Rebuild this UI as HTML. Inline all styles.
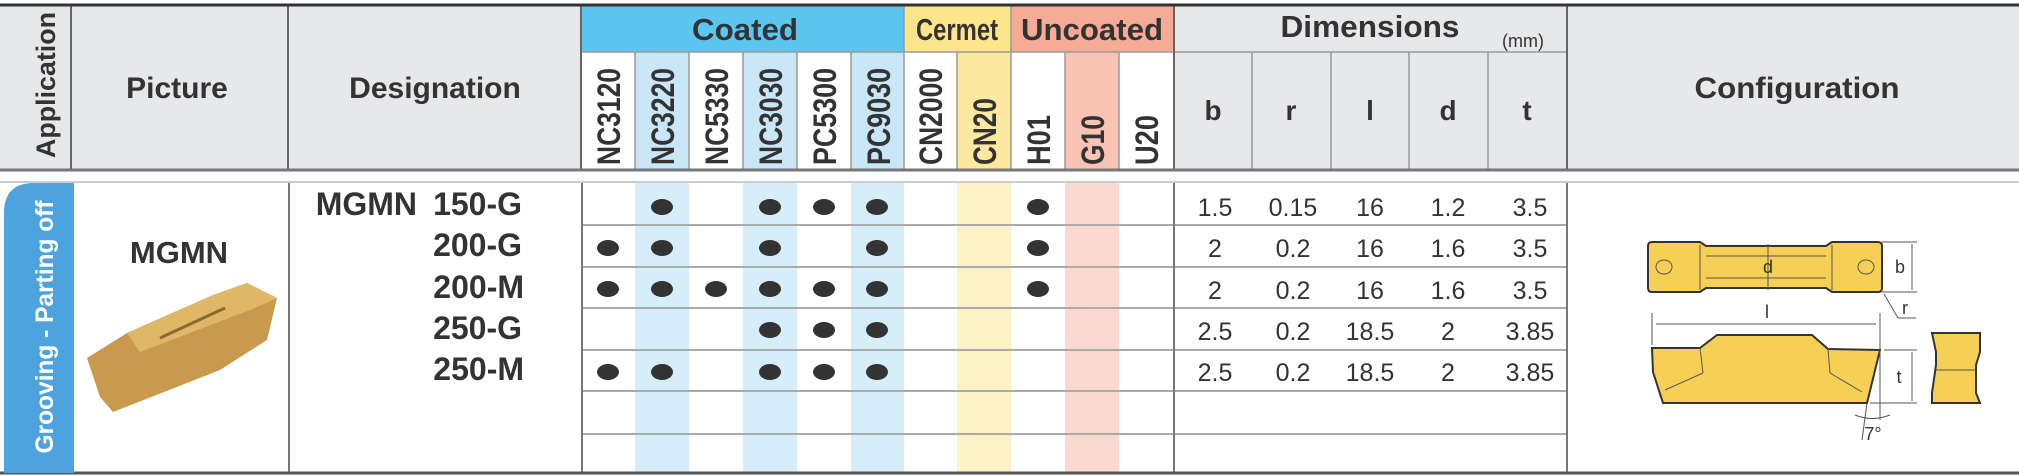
<!DOCTYPE html>
<html><head><meta charset="utf-8"><style>
html,body{margin:0;padding:0;background:#fff;}
svg{display:block;}
text{font-family:"Liberation Sans",sans-serif;fill:#333;}
</style></head><body>
<svg width="2019" height="476" viewBox="0 0 2019 476" xmlns="http://www.w3.org/2000/svg">
<rect width="2019" height="476" fill="#fff"/>
<rect x="0" y="5" width="2019" height="166" fill="#e7e8e9"/>
<rect x="581" y="6" width="323" height="46" fill="#5cc6f0"/>
<rect x="904" y="6" width="107" height="46" fill="#fde58c"/>
<rect x="1011" y="6" width="163" height="46" fill="#f6ab96"/>
<g>
<rect x="581" y="52" width="54" height="118" fill="#fff"/>
<rect x="635" y="52" width="54" height="118" fill="#c9e7f7"/>
<rect x="689" y="52" width="54" height="118" fill="#fff"/>
<rect x="743" y="52" width="54" height="118" fill="#c9e7f7"/>
<rect x="797" y="52" width="54" height="118" fill="#fff"/>
<rect x="851" y="52" width="53" height="118" fill="#c9e7f7"/>
<rect x="904" y="52" width="53" height="118" fill="#fff"/>
<rect x="957" y="52" width="54" height="118" fill="#fde8a0"/>
<rect x="1011" y="52" width="54" height="118" fill="#fff"/>
<rect x="1065" y="52" width="54" height="118" fill="#f9c4b4"/>
<rect x="1119" y="52" width="55" height="118" fill="#fff"/>
</g>
<rect x="635" y="183" width="54" height="290" fill="#d6edfa"/>
<rect x="743" y="183" width="54" height="290" fill="#d6edfa"/>
<rect x="851" y="183" width="53" height="290" fill="#d6edfa"/>
<rect x="957" y="183" width="54" height="290" fill="#fdf2c6"/>
<rect x="1065" y="183" width="54" height="290" fill="#fbd9cf"/>
<g stroke="#999" stroke-width="1.5">
<line x1="581" y1="52" x2="1567" y2="52"/>
<line x1="635" y1="52" x2="635" y2="170"/><line x1="689" y1="52" x2="689" y2="170"/>
<line x1="743" y1="52" x2="743" y2="170"/><line x1="797" y1="52" x2="797" y2="170"/>
<line x1="851" y1="52" x2="851" y2="170"/><line x1="957" y1="52" x2="957" y2="170"/>
<line x1="1065" y1="52" x2="1065" y2="170"/><line x1="1119" y1="52" x2="1119" y2="170"/>
<line x1="904" y1="6" x2="904" y2="170"/><line x1="1011" y1="6" x2="1011" y2="170"/>
<line x1="1252" y1="52" x2="1252" y2="170"/><line x1="1331" y1="52" x2="1331" y2="170"/>
<line x1="1409" y1="52" x2="1409" y2="170"/><line x1="1488" y1="52" x2="1488" y2="170"/>
</g>
<g stroke="#666" stroke-width="2">
<line x1="71" y1="6" x2="71" y2="170"/><line x1="288" y1="6" x2="288" y2="170"/>
<line x1="581" y1="6" x2="581" y2="170"/><line x1="1174" y1="6" x2="1174" y2="170"/>
<line x1="1567" y1="6" x2="1567" y2="170"/>
</g>
<line x1="0" y1="5" x2="2019" y2="5" stroke="#333" stroke-width="3"/>
<line x1="0" y1="170" x2="2019" y2="170" stroke="#777" stroke-width="3"/>
<line x1="0" y1="182" x2="2019" y2="182" stroke="#ccc" stroke-width="2"/>
<g stroke="#aaa" stroke-width="2">
<line x1="581" y1="225" x2="1567" y2="225"/><line x1="581" y1="267" x2="1567" y2="267"/>
<line x1="581" y1="308" x2="1567" y2="308"/><line x1="581" y1="350" x2="1567" y2="350"/>
<line x1="581" y1="391" x2="1567" y2="391"/><line x1="581" y1="434" x2="1567" y2="434"/>
</g>
<g stroke="#777" stroke-width="2">
<line x1="289" y1="183" x2="289" y2="473"/><line x1="582" y1="183" x2="582" y2="473"/>
<line x1="1174" y1="183" x2="1174" y2="473"/><line x1="1567" y1="183" x2="1567" y2="473"/>
</g>
<line x1="0" y1="473" x2="2019" y2="473" stroke="#555" stroke-width="3"/>
<path d="M4 473 V213 Q4 183 34 183 H74 V473 Z" fill="#4da3dd"/>
<text transform="translate(53,327) rotate(-90)" text-anchor="middle" font-size="25" font-weight="bold" style="fill:#fff" textLength="253" lengthAdjust="spacingAndGlyphs">Grooving - Parting off</text>
<text transform="translate(55,85) rotate(-90)" text-anchor="middle" font-size="27" font-weight="bold" textLength="146" lengthAdjust="spacingAndGlyphs">Application</text>
<text x="177" y="98" text-anchor="middle" font-size="30" font-weight="bold">Picture</text>
<text x="435" y="98" text-anchor="middle" font-size="30" font-weight="bold">Designation</text>
<text x="745" y="40" text-anchor="middle" font-size="31" font-weight="bold" textLength="106" lengthAdjust="spacingAndGlyphs">Coated</text>
<text x="957" y="40" text-anchor="middle" font-size="31" font-weight="bold" textLength="82" lengthAdjust="spacingAndGlyphs">Cermet</text>
<text x="1092" y="40" text-anchor="middle" font-size="31" font-weight="bold" textLength="142" lengthAdjust="spacingAndGlyphs">Uncoated</text>
<text x="1370" y="37" text-anchor="middle" font-size="31" font-weight="bold" textLength="179" lengthAdjust="spacingAndGlyphs">Dimensions</text>
<text x="1523" y="47" text-anchor="middle" font-size="18">(mm)</text>
<text x="1797" y="98" text-anchor="middle" font-size="30" font-weight="bold" textLength="205" lengthAdjust="spacingAndGlyphs">Configuration</text>
<g font-size="28" font-weight="bold" text-anchor="middle">
<text x="1213" y="120">b</text><text x="1291" y="120">r</text><text x="1370" y="120">l</text><text x="1448" y="120">d</text><text x="1527" y="120">t</text>
</g>
<g font-size="32" font-weight="bold">
<text transform="translate(620,165) rotate(-90)" textLength="97" lengthAdjust="spacingAndGlyphs">NC3120</text>
<text transform="translate(674,165) rotate(-90)" textLength="97" lengthAdjust="spacingAndGlyphs">NC3220</text>
<text transform="translate(728,165) rotate(-90)" textLength="97" lengthAdjust="spacingAndGlyphs">NC5330</text>
<text transform="translate(782,165) rotate(-90)" textLength="97" lengthAdjust="spacingAndGlyphs">NC3030</text>
<text transform="translate(836,165) rotate(-90)" textLength="97" lengthAdjust="spacingAndGlyphs">PC5300</text>
<text transform="translate(890,165) rotate(-90)" textLength="97" lengthAdjust="spacingAndGlyphs">PC9030</text>
<text transform="translate(942,165) rotate(-90)" textLength="97" lengthAdjust="spacingAndGlyphs">CN2000</text>
<text transform="translate(996,165) rotate(-90)" textLength="67" lengthAdjust="spacingAndGlyphs">CN20</text>
<text transform="translate(1050,165) rotate(-90)" textLength="50" lengthAdjust="spacingAndGlyphs">H01</text>
<text transform="translate(1104,165) rotate(-90)" textLength="50" lengthAdjust="spacingAndGlyphs">G10</text>
<text transform="translate(1158,165) rotate(-90)" textLength="50" lengthAdjust="spacingAndGlyphs">U20</text>
</g>
<g font-size="32" font-weight="bold" text-anchor="end">
<text x="417" y="215">MGMN</text>
<text x="522" y="215">150-G</text>
<text x="522" y="256">200-G</text>
<text x="524" y="298">200-M</text>
<text x="522" y="339">250-G</text>
<text x="524" y="380">250-M</text>
</g>
<text x="179" y="263" text-anchor="middle" font-size="31" font-weight="bold">MGMN</text>
<polygon points="87,358 127,333 213,295 247,283 277,298 267,340 220,370 113,412 100,397" fill="#c99a4e"/>
<polygon points="127,333 213,295 247,283 277,298 250,310 140,352" fill="#e0b766"/>
<line x1="160" y1="338" x2="225" y2="308" stroke="#8a6a30" stroke-width="3"/>
<g fill="#333">
<ellipse cx="662" cy="207" rx="11" ry="8"/><ellipse cx="770" cy="207" rx="11" ry="8"/><ellipse cx="824" cy="207" rx="11" ry="8"/><ellipse cx="877" cy="207" rx="11" ry="8"/><ellipse cx="1038" cy="207" rx="11" ry="8"/>
<ellipse cx="608" cy="248" rx="11" ry="8"/><ellipse cx="662" cy="248" rx="11" ry="8"/><ellipse cx="770" cy="248" rx="11" ry="8"/><ellipse cx="877" cy="248" rx="11" ry="8"/><ellipse cx="1038" cy="248" rx="11" ry="8"/>
<ellipse cx="608" cy="289" rx="11" ry="8"/><ellipse cx="662" cy="289" rx="11" ry="8"/><ellipse cx="716" cy="289" rx="11" ry="8"/><ellipse cx="770" cy="289" rx="11" ry="8"/><ellipse cx="824" cy="289" rx="11" ry="8"/><ellipse cx="877" cy="289" rx="11" ry="8"/><ellipse cx="1038" cy="289" rx="11" ry="8"/>
<ellipse cx="770" cy="330" rx="11" ry="8"/><ellipse cx="824" cy="330" rx="11" ry="8"/><ellipse cx="877" cy="330" rx="11" ry="8"/>
<ellipse cx="608" cy="372" rx="11" ry="8"/><ellipse cx="662" cy="372" rx="11" ry="8"/><ellipse cx="770" cy="372" rx="11" ry="8"/><ellipse cx="824" cy="372" rx="11" ry="8"/><ellipse cx="877" cy="372" rx="11" ry="8"/>
</g>
<g font-size="25" text-anchor="middle">
<text x="1215" y="216">1.5</text><text x="1293" y="216">0.15</text><text x="1370" y="216">16</text><text x="1448" y="216">1.2</text><text x="1530" y="216">3.5</text>
<text x="1215" y="257">2</text><text x="1293" y="257">0.2</text><text x="1370" y="257">16</text><text x="1448" y="257">1.6</text><text x="1530" y="257">3.5</text>
<text x="1215" y="299">2</text><text x="1293" y="299">0.2</text><text x="1370" y="299">16</text><text x="1448" y="299">1.6</text><text x="1530" y="299">3.5</text>
<text x="1215" y="340">2.5</text><text x="1293" y="340">0.2</text><text x="1370" y="340">18.5</text><text x="1448" y="340">2</text><text x="1530" y="340">3.85</text>
<text x="1215" y="381">2.5</text><text x="1293" y="381">0.2</text><text x="1370" y="381">18.5</text><text x="1448" y="381">2</text><text x="1530" y="381">3.85</text>
</g>
<g stroke="#333" stroke-width="2" fill="#f6cf55">
<path d="M1652 242 H1700 L1706 246 H1826 L1832 242 H1878 Q1882 242 1882 246 V288 Q1882 292 1878 292 H1832 L1826 288 H1706 L1700 292 H1652 Q1648 292 1648 288 V246 Q1648 242 1652 242 Z"/>
<polygon points="1652,348 1700,348 1717,335 1812,335 1828,349 1880,350 1867,403 1663,403 1653,372"/>
<polygon points="1932,333 1980,333 1980,352 1976,365 1976,393 1980,403 1932,403 1932,393 1936,365 1936,352"/>
</g>
<g stroke="#555" stroke-width="1" fill="none">
<line x1="1700" y1="245" x2="1700" y2="290"/><line x1="1832" y1="245" x2="1832" y2="290"/>
<line x1="1706" y1="256" x2="1826" y2="256"/><line x1="1706" y1="278" x2="1826" y2="278"/>
<line x1="1768" y1="244" x2="1768" y2="290"/>
<ellipse cx="1664" cy="267" rx="8" ry="7"/><ellipse cx="1866" cy="267" rx="8" ry="7"/>
<line x1="1700" y1="348" x2="1703" y2="373"/><line x1="1703" y1="373" x2="1665" y2="390"/>
<line x1="1828" y1="349" x2="1830" y2="373"/><line x1="1830" y1="373" x2="1862" y2="392"/>
<line x1="1936" y1="370" x2="1976" y2="370"/>
<line x1="1882" y1="242" x2="1917" y2="242"/><line x1="1882" y1="292" x2="1917" y2="292"/>
<line x1="1912" y1="244" x2="1912" y2="290"/>
<line x1="1652" y1="313" x2="1652" y2="345"/><line x1="1880" y1="313" x2="1880" y2="420"/>
<line x1="1656" y1="324" x2="1876" y2="324"/>
<line x1="1884" y1="350" x2="1917" y2="350"/><line x1="1870" y1="403" x2="1917" y2="403"/>
<line x1="1912" y1="352" x2="1912" y2="401"/>
<line x1="1884" y1="294" x2="1898" y2="318"/><line x1="1898" y1="318" x2="1916" y2="318"/>
<path d="M1855 415 Q1872 422 1890 415"/>
<line x1="1867" y1="403" x2="1862" y2="440"/>
</g>
<g font-size="18" text-anchor="middle" style="fill:#888">
<text x="1768" y="273">d</text><text x="1900" y="273">b</text><text x="1767" y="318">l</text>
<text x="1899" y="383">t</text><text x="1905" y="314">r</text><text x="1873" y="440">7°</text>
</g>
</svg>
</body></html>
